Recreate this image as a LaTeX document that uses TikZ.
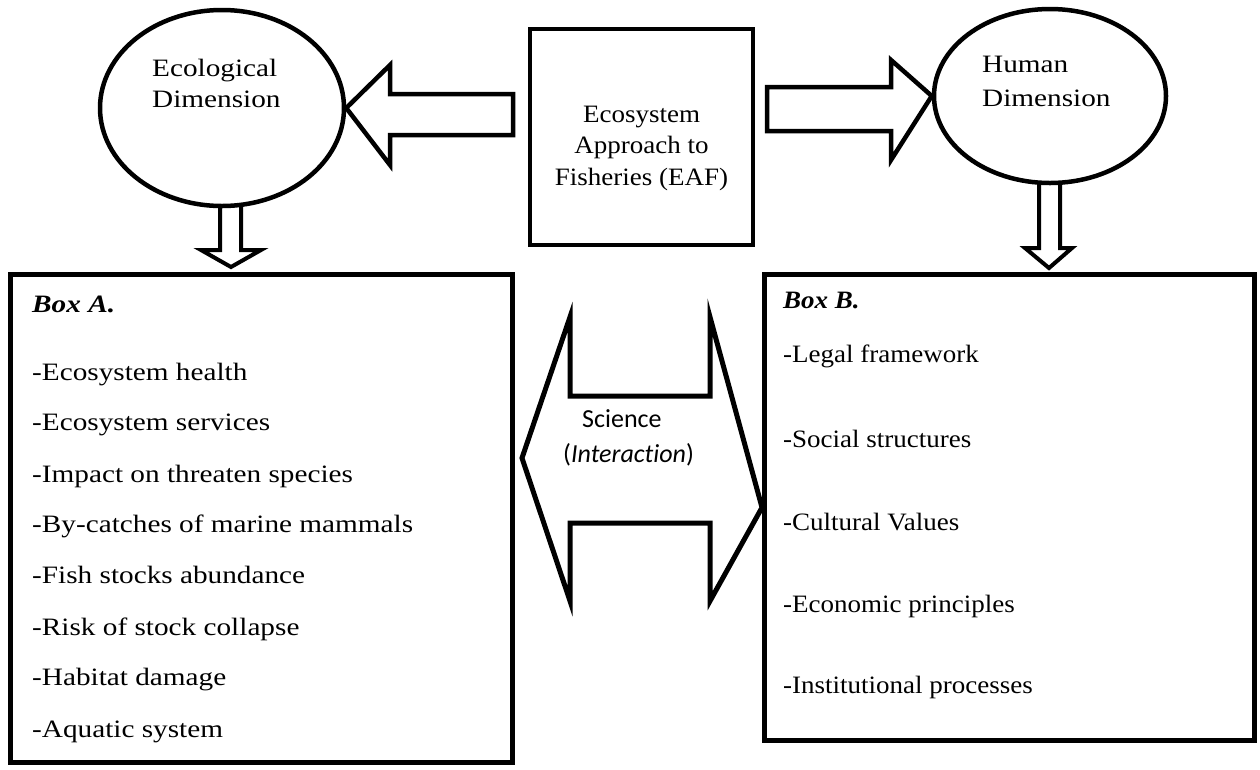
\documentclass[tikz,border=0pt]{standalone}
\usepackage{fontspec}
\setmainfont{Liberation Serif}
\newfontfamily\wideserif[FakeStretch=1.17]{Liberation Serif}
\newfontfamily\narrowserif[FakeStretch=1.08]{Liberation Serif}
\newfontfamily\sciencefont[Ligatures=NoCommon]{Carlito}
\usetikzlibrary{shapes.geometric}
\begin{document}
\begin{tikzpicture}[x=1pt,y=-1pt,
  ell/.style={draw, ellipse, line width=4.5pt, inner sep=0pt, fill=white},
  boxframe/.style={draw, rectangle, line width=5pt, inner sep=0pt},
  blockarrow/.style={draw, line width=4.5pt, fill=white, line join=miter, miter limit=20},
  wtext/.style={anchor=base west, inner sep=0pt, font=\wideserif\fontsize{25}{31}\selectfont},
  ntext/.style={anchor=base west, inner sep=0pt, font=\narrowserif\fontsize{25}{31}\selectfont},
  ctext/.style={anchor=base, inner sep=0pt, font=\narrowserif\fontsize{25}{31}\selectfont},
  stext/.style={anchor=base west, inner sep=0pt, font=\sciencefont\fontsize{26}{31}\selectfont},
]
\useasboundingbox (0,0) rectangle (1260,769);

% boxes
\node[boxframe, minimum width=502pt, minimum height=488pt] (boxA) at (261.5,518.5) {};
\node[boxframe, minimum width=490pt, minimum height=466pt] (boxB) at (1009.5,507.5) {};
\node[boxframe, line width=4.5pt, minimum width=223pt, minimum height=216pt] (eaf) at (641.5,137) {};

% down arrows (behind ellipses)
\draw[blockarrow, line width=4pt] (220,200) -- (241,200) -- (241,250) -- (261,250) -- (231,267) -- (201,250) -- (220,250) -- cycle;
\draw[blockarrow, line width=4pt] (1039,180) -- (1060,180) -- (1060,248) -- (1072,248) -- (1049,268) -- (1025,248) -- (1039,248) -- cycle;

% ellipses
\node[ell, minimum width=244pt, minimum height=196pt] (eco) at (222,108) {};
\node[ell, minimum width=232pt, minimum height=174pt] (hum) at (1050,96) {};

% horizontal block arrows
\draw[blockarrow] (eco.east) -- (390,65) -- (390,94) -- (513,94) -- (513,135) -- (390,135) -- (390,165) -- cycle;
\draw[blockarrow] (767,87) -- (891,87) -- (891,60) -- (hum.west) -- (891,160) -- (891,131) -- (767,131) -- cycle;

% science double arrow
\draw[blockarrow, line width=5pt] (522,458) -- (570,317) -- (570,396) -- (710,396) -- (710,317) -- (boxB.west) -- (710,601) -- (710,523) -- (570,523) -- (570,601) -- cycle;

% ellipse texts
\node[wtext] (eco1) at (152,76) {Ecological};
\node[wtext] (eco2) at (152,107) {Dimension};
\node[wtext] (hum1) at (982,72) {Human};
\node[wtext] (hum2) at (982,106) {Dimension};

% EAF text
\node[ctext] (eaf1) at (641.5,122) {Ecosystem};
\node[ctext] (eaf2) at (641.5,153) {Approach to};
\node[ctext] (eaf3) at (641.5,185) {Fisheries (EAF)};

% science text
\node[stext] (sci1) at (582,427) {Science};
\node[stext] (sci2) at (563,462) {(\textit{Interaction})};

% Box A texts
\node[wtext, font=\wideserif\fontsize{25}{31}\selectfont\bfseries\itshape] (a0) at (32,312) {Box A.};
\node[wtext] (a1) at (32,380) {-Ecosystem health};
\node[wtext] (a2) at (32,430) {-Ecosystem services};
\node[wtext] (a3) at (32,482) {-Impact on threaten species};
\node[wtext] (a4) at (32,532) {-By-catches of marine mammals};
\node[wtext] (a5) at (32,583) {-Fish stocks abundance};
\node[wtext] (a6) at (32,635) {-Risk of stock collapse};
\node[wtext] (a7) at (32,685) {-Habitat damage};
\node[wtext] (a8) at (32,737) {-Aquatic system};

% Box B texts
\node[ntext, font=\narrowserif\fontsize{25}{31}\selectfont\bfseries\itshape] (b0) at (783,308) {Box B.};
\node[ntext] (b1) at (783,362) {-Legal framework};
\node[ntext] (b2) at (783,447) {-Social structures};
\node[ntext] (b3) at (783,530) {-Cultural Values};
\node[ntext] (b4) at (783,612) {-Economic principles};
\node[ntext] (b5) at (783,693) {-Institutional processes};
\end{tikzpicture}
\end{document}
